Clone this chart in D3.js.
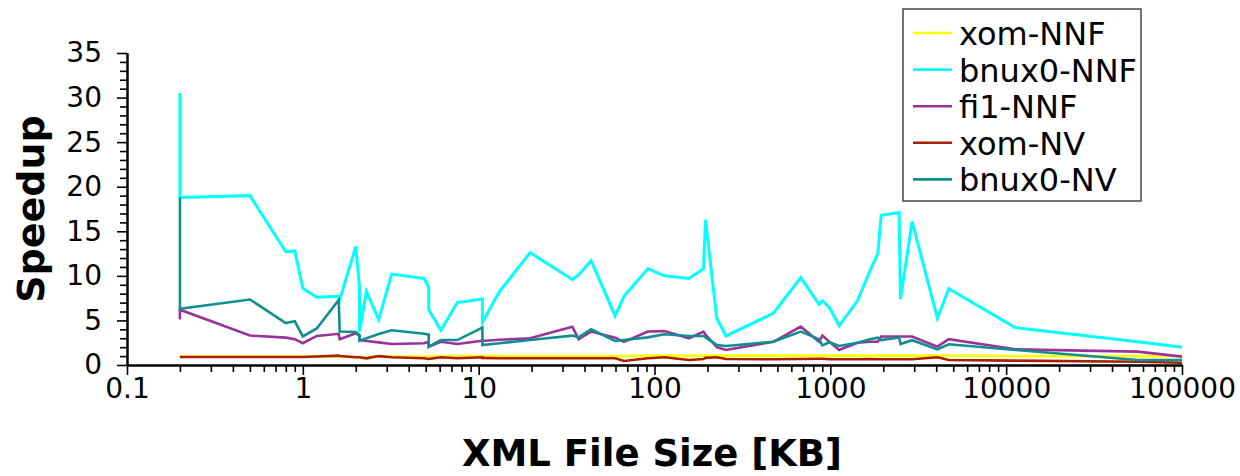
<!DOCTYPE html>
<html>
<head>
<meta charset="utf-8">
<script src="https://cdn.jsdelivr.net/npm/d3@7/dist/d3.min.js"></script>
<style>
  html, body { margin: 0; padding: 0; background: #fff; }
  svg { display: block; }
  text { font-family: "DejaVu Sans", Verdana, sans-serif; }
</style>
</head>
<body>
<svg id="chart" width="1240" height="476"></svg>
<script>
// File sizes in KB (shared by all series)
const sizes = [0.2,0.2,0.2,0.5,0.8,0.9,1.0,1.2,1.6,1.62,2.0,2.1,2.1,2.3,2.7,3.2,4.9,5.2,5.2,6.1,7.56,10.5,10.5,13.1,19.6,34.1,37,43.6,59.7,67,91.6,113.8,157,190,195,226,255,474,679,863,901,988,1122,1426,1683,1862,1945,2462,2505,2918,4063,4716,11250,55800,100000];

const xomNNF   = [0.95,0.95,0.95,0.95,0.95,0.95,0.95,0.95,1.0,0.95,0.9,0.85,0.85,0.9,0.95,0.95,0.95,0.95,0.95,1.0,1.0,1.0,1.0,1.0,1.0,1.0,1.0,1.0,1.0,1.0,1.05,1.05,1.05,1.05,1.05,1.05,1.05,1.05,1.05,1.05,1.05,1.05,1.05,1.05,1.05,1.05,1.05,1.05,1.05,1.05,1.05,1.05,1.0,1.0,1.0];
const bnux0NNF = [30.5,21.5,18.8,19.0,12.7,12.8,8.6,7.6,7.7,7.3,13.3,8.8,3.75,8.25,5.1,10.2,9.7,8.7,6.2,3.9,7.0,7.4,4.8,8.2,12.6,9.6,10.1,11.7,5.5,7.7,10.8,10.0,9.7,10.8,16.3,5.25,3.26,5.8,9.8,6.8,7.2,6.45,4.4,7.2,10.6,12.5,16.8,17.1,7.4,16.1,5.25,8.55,4.2,2.6,2.0];
const fi1NNF   = [5.1,5.6,6.2,3.3,3.07,2.9,2.44,3.26,3.5,2.9,3.57,3.3,2.8,2.7,2.54,2.36,2.44,2.6,2.06,2.6,2.36,2.73,2.7,2.83,3.0,4.3,2.9,3.75,3.07,2.6,3.75,3.8,3.0,3.75,3.4,2.0,1.69,2.6,4.3,2.6,3.3,2.6,1.69,2.5,2.6,2.6,3.2,3.2,3.2,3.2,2.06,2.9,1.76,1.5,0.94];
const xomNV    = [0.9,0.9,0.9,0.9,0.9,0.9,0.9,0.95,1.05,1.0,0.87,0.87,0.87,0.75,1.0,0.87,0.75,0.68,0.68,0.87,0.75,0.87,0.8,0.75,0.75,0.75,0.75,0.75,0.75,0.45,0.75,0.87,0.56,0.68,0.8,0.87,0.68,0.64,0.68,0.7,0.7,0.64,0.64,0.64,0.68,0.64,0.64,0.64,0.64,0.64,0.87,0.56,0.49,0.37,0.26];
const bnux0NV  = [11.5,18.8,6.3,7.35,4.7,4.9,3.2,4.1,7.3,3.75,3.7,3.38,2.73,3.0,3.47,3.9,3.5,3.4,2.05,2.8,2.8,4.2,2.25,2.44,2.8,3.3,3.1,4.0,2.7,2.8,3.1,3.45,3.26,3.26,3.1,2.25,2.14,2.6,3.75,2.9,2.2,2.55,2.14,2.5,2.9,3.07,2.8,3.1,2.36,2.78,1.76,2.33,1.69,0.56,0.56];

const seriesNames  = ["xom-NNF","bnux0-NNF","fi1-NNF","xom-NV","bnux0-NV"];
const seriesValues = [xomNNF, bnux0NNF, fi1NNF, xomNV, bnux0NV];
const seriesColors = ["#ffff00","#00ffff","#993399","#a82000","#0f8f8f"];

const xTickValues = [0.1,1,10,100,1000,10000,100000];
const xTickLabels = ["0.1","1","10","100","1000","10000","100000"];
const yTickValues = [0,5,10,15,20,25,30,35];

(function () {
const svg = d3.select("#chart");
const pLeft = 127, pRight = 1182, pTop = 53, pBottom = 365;

const x = d3.scaleLog().domain([0.1, 100000]).range([pLeft, pRight]);
const y = d3.scaleLinear().domain([0, 35]).range([pBottom, pTop]);

// minor ticks
const xMinor = [];
for (let e = -1; e < 5; e++) for (let m = 2; m <= 9; m++) xMinor.push(m * Math.pow(10, e));
const yMinor = d3.range(0, 36, 1).filter(v => v % 5 !== 0);

function styleAxis(g) {
  g.selectAll("path.domain").attr("stroke", "#000").attr("stroke-width", 2);
  g.selectAll(".tick line").attr("stroke", "#000").attr("stroke-width", 1.6);
  g.selectAll(".tick text").attr("fill", "#000").attr("font-size", 28)
    .attr("font-family", '"DejaVu Sans", Verdana, sans-serif');
}

// series lines
const line = d3.line().x((d, i) => x(sizes[i])).y(d => y(d));
const lines = svg.append("g");
seriesValues.forEach((vals, k) => {
  lines.append("path")
    .datum(vals)
    .attr("d", line)
    .attr("fill", "none")
    .attr("stroke", seriesColors[k])
    .attr("stroke-width", k === 1 ? 3 : 2.6)
    .attr("stroke-linejoin", "miter");
});

// X axis
const gxMinor = svg.append("g").attr("transform", `translate(0,${pBottom})`)
  .call(d3.axisBottom(x).tickValues(xMinor).tickFormat("").tickSize(7).tickSizeOuter(0));
styleAxis(gxMinor);
const gx = svg.append("g").attr("transform", `translate(0,${pBottom})`)
  .call(d3.axisBottom(x).tickValues(xTickValues)
    .tickFormat((d, i) => xTickLabels[i]).tickSize(10).tickPadding(3).tickSizeOuter(0));
styleAxis(gx);

// Y axis
const gyMinor = svg.append("g").attr("transform", `translate(${pLeft},0)`)
  .call(d3.axisLeft(y).tickValues(yMinor).tickFormat("").tickSize(7).tickSizeOuter(0));
styleAxis(gyMinor);
const gy = svg.append("g").attr("transform", `translate(${pLeft},0)`)
  .call(d3.axisLeft(y).tickValues(yTickValues).tickFormat(d3.format("d")).tickSize(10).tickPadding(15).tickSizeOuter(0));
styleAxis(gy);

// Axis titles
svg.append("text")
  .attr("transform", "translate(44,209) rotate(-90)")
  .attr("text-anchor", "middle")
  .attr("font-size", 38).attr("font-weight", "bold")
  .text("Speedup");
svg.append("text")
  .attr("x", 652).attr("y", 466)
  .attr("text-anchor", "middle")
  .attr("font-size", 37).attr("font-weight", "bold")
  .text("XML File Size [KB]");

// Legend
const lg = svg.append("g");
lg.append("rect").attr("x", 903).attr("y", 9).attr("width", 238).attr("height", 192)
  .attr("fill", "#fff").attr("stroke", "#444").attr("stroke-width", 1.5);
seriesNames.forEach((name, i) => {
  const base = 45 + i * 36.6;
  lg.append("line").attr("x1", 913).attr("x2", 952).attr("y1", base - 12).attr("y2", base - 12)
    .attr("stroke", seriesColors[i]).attr("stroke-width", 2.6);
  lg.append("text").attr("x", 959).attr("y", base).attr("font-size", 32).text(name);
});
})();
</script>
</body>
</html>
